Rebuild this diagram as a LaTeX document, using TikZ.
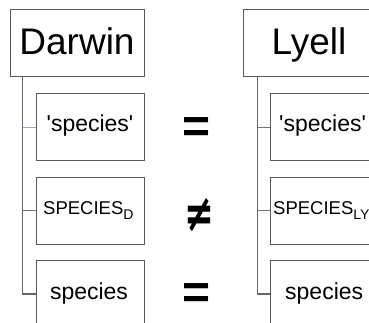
\documentclass[tikz,border=0pt]{standalone}
\usepackage{fontspec}
\setmainfont{Liberation Sans}[Ligatures=TeXOff]
\newfontfamily\relfont{DejaVu Sans}
\definecolor{bluelink}{RGB}{150,172,212}
\begin{document}
\begin{tikzpicture}[x=1pt,y=-1pt,
  box/.style={draw=black!65, line width=0.9pt, inner sep=0pt, minimum width=108pt, minimum height=67pt, anchor=north west},
  headbox/.style={draw=black!65, line width=0.9pt, inner sep=0pt, minimum width=134pt, minimum height=67pt, anchor=north west},
  trunk/.style={draw=black!60, line width=1.1pt},
  branch/.style={draw=black!55, line width=0.9pt},
  bluebranch/.style={draw=bluelink, line width=0.9pt},
  head/.style={inner sep=0pt, anchor=base, font=\fontsize{37}{40}\selectfont},
  lbl/.style={inner sep=0pt, anchor=base, font=\fontsize{23}{26}\selectfont},
  caps/.style={inner sep=0pt, anchor=base west, font=\fontsize{18.5}{22}\selectfont},
  rel/.style={inner sep=0pt, anchor=center, font=\bfseries\fontsize{48}{52}\selectfont},
  nrel/.style={inner sep=0pt, anchor=center, font=\relfont\bfseries\fontsize{42}{46}\selectfont}
]
\newcommand{\subtxt}[1]{\raisebox{-5.5pt}{\fontsize{14}{15}\selectfont #1}}
\useasboundingbox (0,0) rectangle (369,323);
\begin{scope}
\clip (0,0) rectangle (369,323);
% left column
\node[headbox] (darwin) at (10,9) {};
\node[head] (darwinT) at (77,55) {Darwin};
\node[box] (d1) at (36,93) {};
\node[box] (d2) at (36,177) {};
\node[box] (d3) at (36,260) {};
\coordinate (dtop) at (22.7,76);
\coordinate (dj1) at (22.7,127);
\coordinate (dj2) at (22.7,210.5);
\draw[trunk] (dtop) |- (d3.west);
\draw[bluebranch] (dj1) -- (d1.west |- dj1);
\draw[branch] (dj2) -- (d2.west |- dj2);
\node[lbl] (d1T) at (90,132) {'species'};
\node[caps] (d2T) at (43,214.5) {SPECIES\subtxt{D}};
\node[lbl] (d3T) at (89,299) {species};
% right column
\node[headbox] (lyell) at (243,9) {};
\node[head] (lyellT) at (309,55) {Lyell};
\node[box] (l1) at (270,93) {};
\node[box] (l2) at (270,177) {};
\node[box] (l3) at (270,260) {};
\coordinate (ltop) at (257.3,76);
\coordinate (lj1) at (257.3,127);
\coordinate (lj2) at (257.3,210.5);
\draw[trunk] (ltop) |- (l3.west);
\draw[branch] (lj1) -- (l1.west |- lj1);
\draw[branch] (lj2) -- (l2.west |- lj2);
\node[lbl, anchor=base west] (l1T) at (279,132) {'species'};
\node[caps] (l2T) at (273,214.5) {SPECIES\subtxt{LY}};
\node[lbl, anchor=base west] (l3T) at (285,299) {species};
% relations
\node[rel] (eq1) at (197,130) {=};
\node[nrel] (neq) at (199,215) {\scalebox{0.85}[1.25]{≠}};
\node[rel] (eq2) at (197,296) {=};
\end{scope}
\end{tikzpicture}
\end{document}
